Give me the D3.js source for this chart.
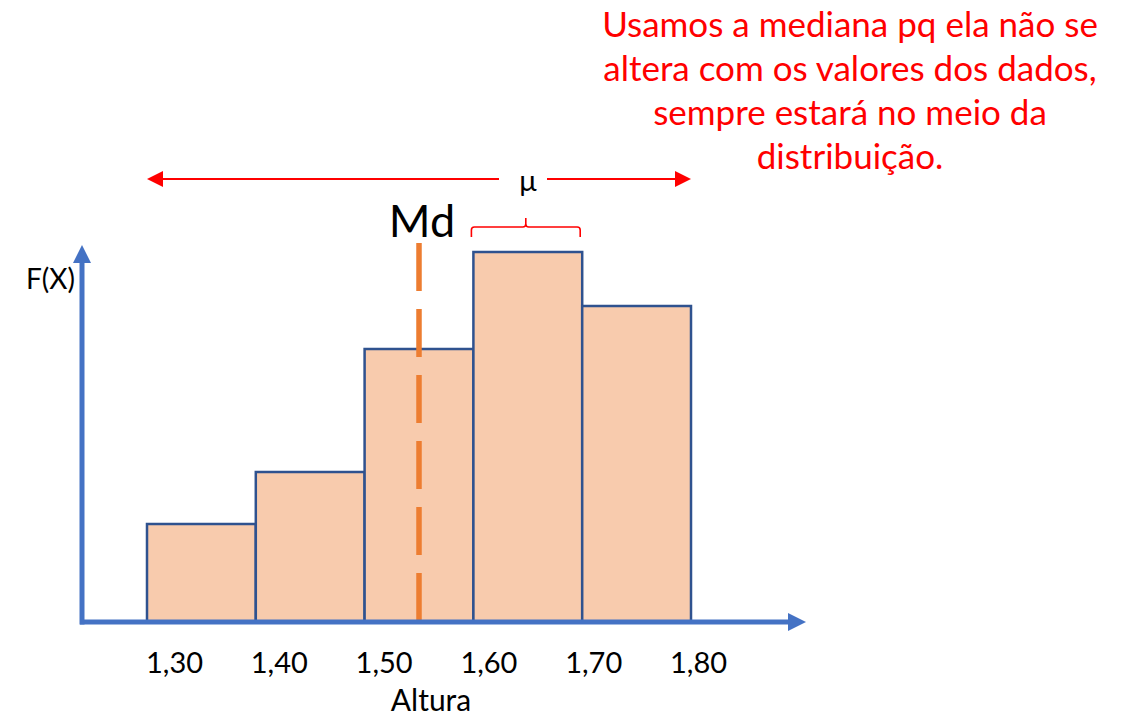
<!DOCTYPE html>
<html>
<head>
<meta charset="utf-8">
<script src="https://cdn.jsdelivr.net/npm/d3@7"></script>
<style>
  html, body { margin: 0; padding: 0; background: #ffffff; }
  svg { display: block; }
  text { font-family: Lato, "Open Sans", sans-serif; }
</style>
</head>
<body>
<svg id="chart" width="1130" height="717"></svg>
<script>
// ---- data ----
const binStarts = [1.30, 1.40, 1.50, 1.60, 1.70];
const binWidth = 0.10;
const frequencies = [9.8, 15.0, 27.3, 37.0, 31.6];
const tickLabels = ["1,30", "1,40", "1,50", "1,60", "1,70", "1,80"];
const tickValues = [1.30, 1.40, 1.50, 1.60, 1.70, 1.80];
const medianValue = 1.55;
const meanValue = 1.65;
const meanBin = [1.60, 1.70];
const noteLines = [
  "Usamos a mediana pq ela não se",
  "altera com os valores dos dados,",
  "sempre estará no meio da",
  "distribuição."
];

// ---- layout ----
const svg = d3.select("#chart");
const baseY = 622, axisX = 82;
const x = d3.scaleLinear().domain([1.30, 1.80]).range([147, 691]);
const xLabel = d3.scaleLinear().domain([1.30, 1.80]).range([174, 698]);
const y = d3.scaleLinear().domain([0, 40]).range([baseY, 222]);

const blue = "#4472C4", red = "#FF0000", orange = "#ED7D31";

// bars
svg.append("g").selectAll("rect")
  .data(binStarts.map((s, i) => ({ s, v: frequencies[i] })))
  .join("rect")
  .attr("x", d => x(d.s))
  .attr("y", d => y(d.v))
  .attr("width", d => x(d.s + binWidth) - x(d.s))
  .attr("height", d => y(0) - y(d.v))
  .attr("fill", "#F8CBAD")
  .attr("stroke", "#2F528F")
  .attr("stroke-width", 2.5);

// median dashed line
svg.append("line")
  .attr("x1", x(medianValue)).attr("x2", x(medianValue))
  .attr("y1", 243).attr("y2", baseY)
  .attr("stroke", orange).attr("stroke-width", 5.5)
  .attr("stroke-dasharray", "48 18");

// axes (lines with arrowheads)
svg.append("line")
  .attr("x1", 80).attr("x2", 792).attr("y1", baseY).attr("y2", baseY)
  .attr("stroke", blue).attr("stroke-width", 5);
svg.append("path")
  .attr("d", `M806,${baseY} L788,${baseY - 9} L788,${baseY + 9} Z`)
  .attr("fill", blue);
svg.append("line")
  .attr("x1", axisX).attr("x2", axisX).attr("y1", baseY + 2.5).attr("y2", 260)
  .attr("stroke", blue).attr("stroke-width", 5);
svg.append("path")
  .attr("d", `M${axisX},245 L${axisX - 9},263 L${axisX + 9},263 Z`)
  .attr("fill", blue);

// x tick labels via d3 axis
const xAxis = d3.axisBottom(xLabel)
  .tickValues(tickValues)
  .tickFormat((d, i) => tickLabels[i])
  .tickSize(0)
  .tickPadding(0);
const gx = svg.append("g").attr("transform", "translate(0,652)").call(xAxis);
gx.select(".domain").remove();
gx.selectAll("text")
  .attr("dy", "0.71em")
  .attr("font-family", "Lato, sans-serif")
  .attr("font-size", 29)
  .attr("fill", "#000");

// axis titles
svg.append("text").attr("x", 431).attr("y", 711)
  .attr("text-anchor", "middle").attr("font-size", 30).attr("fill", "#000")
  .text("Altura");
svg.append("text").attr("x", 26).attr("y", 289)
  .attr("font-size", 28).attr("fill", "#000")
  .text("F(X)");

// Md label
svg.append("text").attr("x", x(medianValue) + 3).attr("y", 237)
  .attr("text-anchor", "middle").attr("font-size", 45).attr("fill", "#000")
  .text("Md");

// top red range arrow with mu
const arrowY = 179;
svg.append("line").attr("x1", x(1.30) + 14).attr("x2", 499)
  .attr("y1", arrowY).attr("y2", arrowY).attr("stroke", red).attr("stroke-width", 1.8);
svg.append("line").attr("x1", 547).attr("x2", x(1.80) - 14)
  .attr("y1", arrowY).attr("y2", arrowY).attr("stroke", red).attr("stroke-width", 1.8);
svg.append("path")
  .attr("d", `M${x(1.30)},${arrowY} L${x(1.30) + 16},${arrowY - 8} L${x(1.30) + 16},${arrowY + 8} Z`)
  .attr("fill", red);
svg.append("path")
  .attr("d", `M${x(1.80)},${arrowY} L${x(1.80) - 16},${arrowY - 8} L${x(1.80) - 16},${arrowY + 8} Z`)
  .attr("fill", red);
svg.append("text").attr("x", x(meanValue)).attr("y", 191)
  .attr("text-anchor", "middle").attr("font-size", 29).attr("fill", "#000")
  .text("μ");

// brace over mean bin
const bx0 = x(meanBin[0]) - 2, bx1 = x(meanBin[1]) - 2, bmid = (bx0 + bx1) / 2;
svg.append("path")
  .attr("d", `M${bx0},237 L${bx0},230 Q${bx0},227 ${bx0 + 3},227 L${bmid - 3},227 Q${bmid},227 ${bmid},224 L${bmid},218 M${bmid},224 Q${bmid},227 ${bmid + 3},227 L${bx1 - 3},227 Q${bx1},227 ${bx1},230 L${bx1},237`)
  .attr("fill", "none").attr("stroke", red).attr("stroke-width", 1.6);

// red note
svg.append("g").selectAll("text")
  .data(noteLines)
  .join("text")
  .attr("x", 850)
  .attr("y", (d, i) => 37 + i * 44)
  .attr("text-anchor", "middle")
  .attr("font-size", 35)
  .attr("fill", red)
  .text(d => d);
</script>
</body>
</html>
